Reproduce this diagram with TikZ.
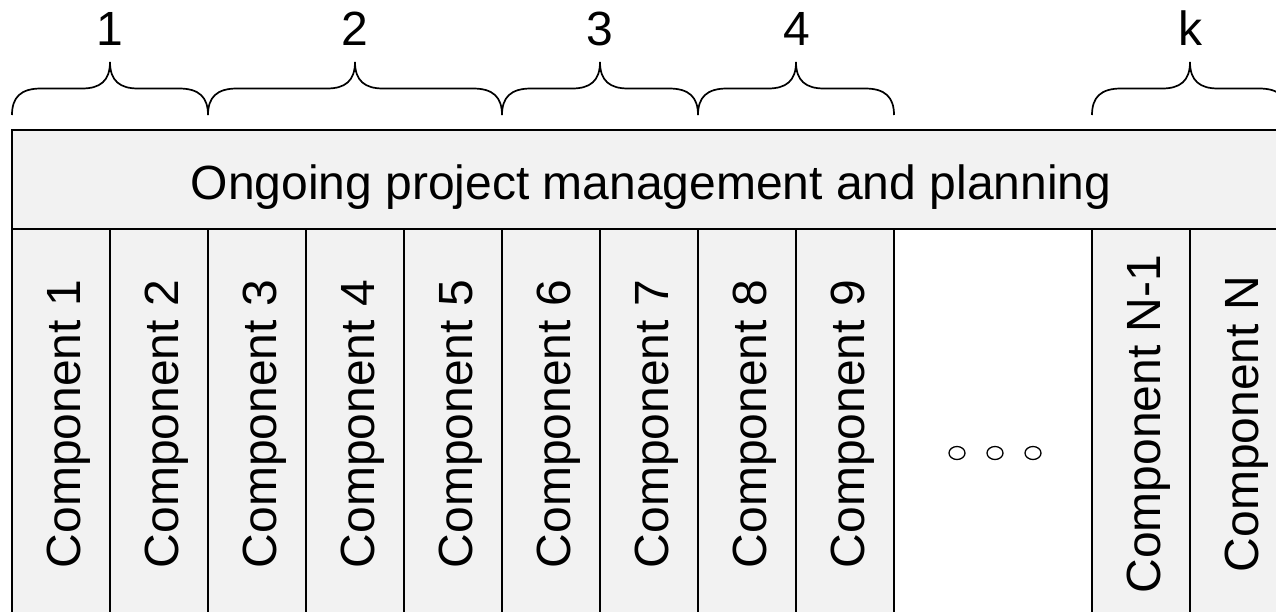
\documentclass[tikz,border=0pt]{standalone}
\usepackage{fontspec}
\usetikzlibrary{shapes.geometric}
\setmainfont{Liberation Sans}
\definecolor{boxgray}{HTML}{F2F2F2}
\newcommand{\curlybr}[3]{%
  \draw[bracestyle] (#1,115) .. controls (#1,97) and (#1+9,88.5) .. (#1+29,88.5)
    -- (#2-28,88.5) .. controls (#2-10,88.5) and (#2,81) .. (#2,62)
    .. controls (#2,81) and (#2+10,88.5) .. (#2+28,88.5)
    -- (#3-29,88.5) .. controls (#3-9,88.5) and (#3,97) .. (#3,115);}
\begin{document}
\begin{tikzpicture}[x=1pt,y=-1pt,
  bracestyle/.style={line width=1.7pt},
  colbox/.style={draw, line width=1.8pt, fill=boxgray, minimum width=98pt, minimum height=390pt, inner sep=0pt, outer sep=0pt},
  topbox/.style={draw, line width=2pt, fill=boxgray, minimum width=1276pt, minimum height=99pt, inner sep=0pt, outer sep=0pt},
  lab/.style={font=\fontsize{48}{58}\selectfont, inner sep=0pt},
  clab/.style={lab, rotate=90, anchor=base},
  dot/.style={draw, line width=1.3pt, ellipse, minimum width=16pt, minimum height=13pt, inner sep=0pt}]
\useasboundingbox (0,0) rectangle (1276,611);
\clip (0,0) rectangle (1276,611);
\fill[white] (0,0) rectangle (1276,611);
% top box
\node[topbox] (top) at (650,179.5) {};
\node[lab, anchor=base] (toptext) at (651,199) {Ongoing project management and planning};
% columns
\foreach \i/\cx in {1/61,2/159,3/257,4/355,5/453,6/551,7/649,8/747,9/845}{
  \node[colbox] (c\i) at (\cx,424) {};
  \node[clab] (t\i) at (\cx+19,424) {Component \i};
}
\node[colbox, fill=white, minimum width=198pt] (cdots) at (993,424) {};
\node[colbox] (cn1) at (1141,424) {};
\node[clab] (tn1) at (1160,424) {Component N-1};
\node[colbox] (cn) at (1239,424) {};
\node[clab] (tn) at (1258,424) {Component N};
% dots
\node[dot] (d1) at (957,453) {};
\node[dot] (d2) at (995,453) {};
\node[dot] (d3) at (1033,453) {};
% braces
\curlybr{12}{110}{208}
\curlybr{208}{355}{502}
\curlybr{502}{600}{698}
\curlybr{698}{796}{894}
\curlybr{1092}{1190}{1288}
% brace labels
\node[lab, anchor=base] (k1) at (110,45) {1};
\node[lab, anchor=base] (k2) at (355,45) {2};
\node[lab, anchor=base] (k3) at (600,45) {3};
\node[lab, anchor=base] (k4) at (797,45) {4};
\node[lab, anchor=base] (kk) at (1190,45) {k};
\end{tikzpicture}
\end{document}
